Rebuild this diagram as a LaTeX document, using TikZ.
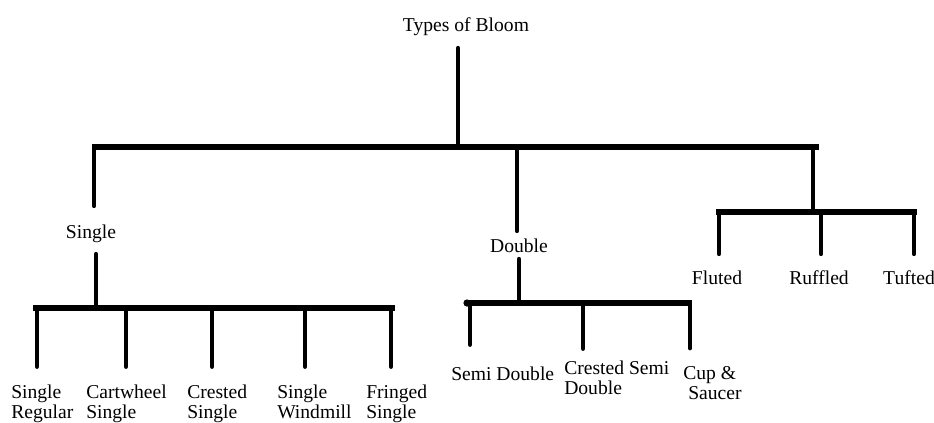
\documentclass[tikz,border=0pt]{standalone}
\usepackage{fontspec}
\setmainfont{Liberation Serif}
% one pixel of the drawing grid
\newdimen\pxu \pxu=0.75pt
\begin{document}
\begin{tikzpicture}[x=0.75pt,y=-0.75pt,
  lbl/.style={font=\fontsize{14.7}{14.3}\selectfont, inner sep=0pt,
              text height=10pt, text depth=3.2pt, anchor=base},
  multi/.style={font=\fontsize{14.7}{14.3}\selectfont, inner sep=0pt,
                align=left, anchor=base west},
  bar/.style={line width=3.8pt},
  stem/.style={line width=3.6pt, line cap=round},
  gapin/.style={shorten <=#1\pxu},
  gapout/.style={shorten >=#1\pxu}]
\useasboundingbox (0,0) rectangle (934,422);

% ---- labels (two-line labels are placed by their last baseline) ----
\node[lbl] (root)    at (466,31)  {Types of Bloom};
\node[lbl] (single)  at (91,238)  {Single};
\node[lbl] (double)  at (519,252) {Double};
\node[lbl] (fluted)  at (717,284) {Fluted};
\node[lbl] (ruffled) at (819,284) {Ruffled};
\node[lbl] (tufted)  at (909,284) {Tufted};

\node[multi] (sreg)  at (11,418)  {Single\\Regular};
\node[multi] (cart)  at (86,418)  {Cartwheel\\Single};
\node[multi] (crs)   at (187,418) {Crested\\Single};
\node[multi] (wind)  at (277,418) {Single\\Windmill};
\node[multi] (fring) at (366,418) {Fringed\\Single};

\node[multi] (semi)  at (451,380) {Semi Double};
\node[multi] (crsd)  at (564,394) {Crested Semi\\Double};
\node[multi] (cup)   at (683,399) {Cup \&\\\hspace{5\pxu}Saucer};

% ---- junction points ----
\coordinate (topL) at (92,147);   \coordinate (topR) at (819,147);
\coordinate (jRoot) at (458,147);
\coordinate (jS) at (94,147);     \coordinate (jD) at (517,147);
\coordinate (jT) at (813,147);

\coordinate (sL) at (33,308);     \coordinate (sR) at (395,308);
\coordinate (sUp) at (96,308);
\coordinate (s1) at (37,308);     \coordinate (s2) at (126,308);
\coordinate (s3) at (212,308);    \coordinate (s4) at (305,308);
\coordinate (s5) at (391,308);

\coordinate (dL) at (467,303);    \coordinate (dR) at (692,303);
\coordinate (dUp) at (519,303);
\coordinate (d1) at (470,303);    \coordinate (d2) at (583,303);
\coordinate (d3) at (690,303);

\coordinate (tL) at (716,212);    \coordinate (tR) at (917,212);
\coordinate (tUp) at (813,212);
\coordinate (t1) at (719,212);    \coordinate (t2) at (821,212);
\coordinate (t3) at (914,212);

% ---- bars ----
\draw[bar] (topL) -- (topR);
\draw[bar] (sL) -- (sR);
\draw[bar] (dL) -- (dR);
\draw[bar] (tL) -- (tR);
\fill (dL) circle (3.6);

% ---- stems ----
\draw[stem, gapin=12.7] (jRoot |- root.south) -- (jRoot);

\draw[stem, gapout=18.7] (jS) -- (jS |- single.north);
\draw[stem, gapout=7.7]  (jD) -- (jD |- double.north);
\draw[stem] (jT) -- (tUp);

\draw[stem, gapin=11.7] (sUp |- single.south) -- (sUp);
\draw[stem, gapin=2.7]  (dUp |- double.south) -- (dUp);

\draw[stem, gapout=16.7] (t1) -- (t1 |- fluted.north);
\draw[stem, gapout=16.7] (t2) -- (t2 |- ruffled.north);
\draw[stem, gapout=16.7] (t3) -- (t3 |- tufted.north);

\draw[stem, gapout=18.6] (s1) -- (s1 |- sreg.north);
\draw[stem, gapout=18.6] (s2) -- (s2 |- cart.north);
\draw[stem, gapout=18.6] (s3) -- (s3 |- crs.north);
\draw[stem, gapout=18.6] (s4) -- (s4 |- wind.north);
\draw[stem, gapout=18.6] (s5) -- (s5 |- fring.north);

\draw[stem, gapout=21.6] (d1) -- (d1 |- semi.north);
\draw[stem, gapout=12.6] (d2) -- (d2 |- crsd.north);
\draw[stem, gapout=18.6] (d3) -- (d3 |- cup.north);
\end{tikzpicture}
\end{document}
